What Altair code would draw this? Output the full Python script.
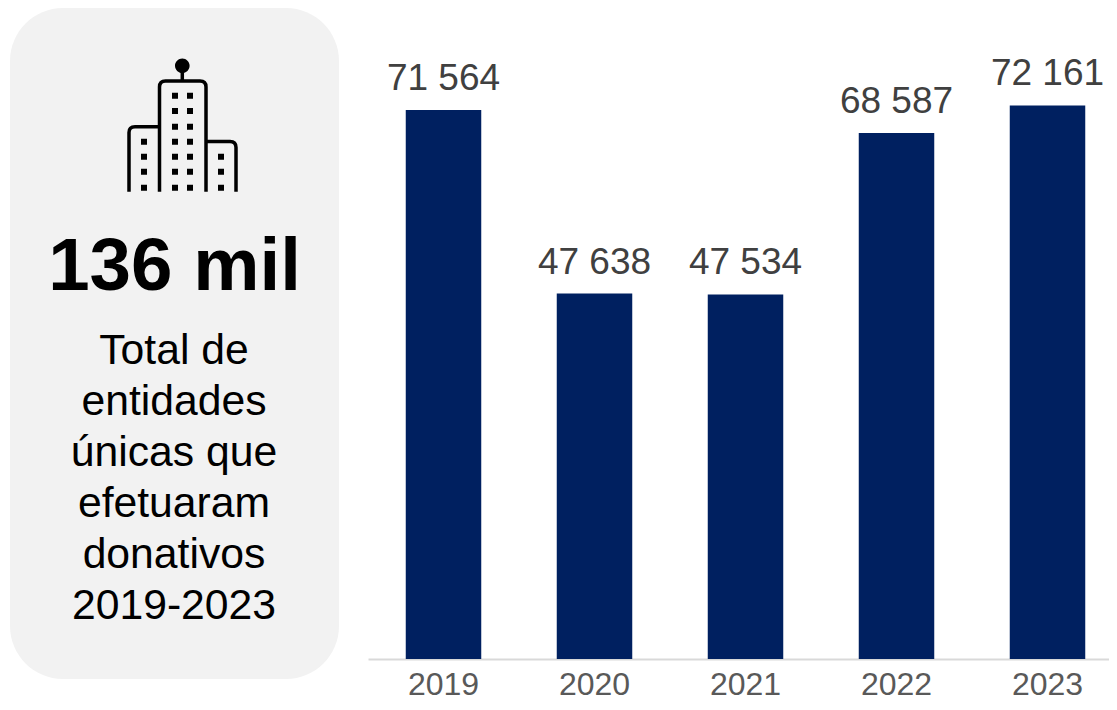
import altair as alt

years = ["2019", "2020", "2021", "2022", "2023"]
values = [71564, 47638, 47534, 68587, 72161]
labels = ["71 564", "47 638", "47 534", "68 587", "72 161"]
headline = "136 mil"
caption = "Total de\nentidades\núnicas que\nefetuaram\ndonativos\n2019-2023"

FONT = "Liberation Sans"
rows = [{"year": y, "value": v, "label": l} for y, v, l in zip(years, values, labels)]
one = alt.Data(values=[{}])

# Icon geometry, page pixels
CX, CY = 182.0, 130.0
def P(x, y):
    return f"{x - CX:.2f} {y - CY:.2f}"

BOTTOM = 191.7
outline = (
    f"M{P(159.5, BOTTOM)} L{P(159.5, 87)} Q{P(159.5, 81)} {P(165.5, 81)} "
    f"L{P(200, 81)} Q{P(206, 81)} {P(206, 87)} L{P(206, BOTTOM)} "
    f"M{P(129, BOTTOM)} L{P(129, 132.5)} Q{P(129, 126.7)} {P(135, 126.7)} L{P(159.5, 126.7)} "
    f"M{P(206, 141.5)} L{P(230, 141.5)} Q{P(236, 141.5)} {P(236, 147.5)} L{P(236, BOTTOM)} "
    f"M{P(182.3, 72)} L{P(182.3, 81)}"
)
win_rows = [95.7, 111, 126.7, 141.7, 156.7, 171.7, 187.7]
windows = [(175, y) for y in win_rows] + [(190, y) for y in win_rows]
windows += [(144, y) for y in win_rows[3:]] + [(221, y) for y in win_rows[4:]]
solid = ""
for x, y in windows:
    y0, y1 = y - 3, min(y + 3, BOTTOM)
    solid += f"M{P(x - 3, y0)} L{P(x + 3, y0)} L{P(x + 3, y1)} L{P(x - 3, y1)} Z "
kx, ky, kr = 182.3, 65.7, 7.3
solid += (f"M{P(kx - kr, ky)} A{kr} {kr} 0 1 1 {P(kx + kr, ky)} "
          f"A{kr} {kr} 0 1 1 {P(kx - kr, ky)} Z")

panel = alt.Chart(one).mark_rect(color="#f2f2f2", cornerRadius=53).encode(
    x=alt.value(2), x2=alt.value(331), y=alt.value(0), y2=alt.value(671))

icon_lines = alt.Chart(one).mark_point(
    shape=outline, size=4, filled=False, stroke="#000000", strokeWidth=3.5, opacity=1
).encode(x=alt.value(CX - 8), y=alt.value(CY - 8))
icon_solid = alt.Chart(one).mark_point(
    shape=solid, size=4, filled=True, fill="#000000", strokeWidth=0, opacity=1
).encode(x=alt.value(CX - 8), y=alt.value(CY - 8))

head = alt.Chart(one).mark_text(
    text=headline, font=FONT, fontSize=74.5, fontWeight="bold", color="#000000",
    align="center", baseline="alphabetic"
).encode(x=alt.value(166.5), y=alt.value(282))

cap = alt.Chart(one).mark_text(
    text=caption, lineBreak="\n", lineHeight=51, font=FONT, fontSize=42.7, color="#000000",
    align="center", baseline="alphabetic"
).encode(x=alt.value(166), y=alt.value(356))

xenc = alt.X("year:N", sort=years, title=None,
             scale=alt.Scale(range=[360, 1115], paddingInner=0.5, paddingOuter=0.25),
             axis=alt.Axis(ticks=False, domainColor="#d9d9d9", domainWidth=2, labelAngle=0,
                           labelFont=FONT, labelFontSize=32, labelColor="#595959",
                           labelPadding=10, grid=False))
yenc = alt.Y("value:Q", axis=None, scale=alt.Scale(domain=[0, 84870], nice=False, zero=True))

bars = alt.Chart(alt.Data(values=rows)).mark_bar(color="#002060").encode(x=xenc, y=yenc)
text = alt.Chart(alt.Data(values=rows)).mark_text(
    font=FONT, fontSize=37, color="#404040", baseline="alphabetic", dy=-20
).encode(x=xenc, y=yenc, text="label:N")

chart = alt.layer(panel, icon_lines, icon_solid, head, cap, bars, text).properties(
    width=1101, height=651,
    autosize=alt.AutoSizeParams(type="none"),
    padding={"left": 0, "top": 0, "right": 0, "bottom": 43},
    background="#ffffff",
).configure_view(stroke=None)

chart.save("out.html", embed_options={"renderer": "svg", "actions": False})
